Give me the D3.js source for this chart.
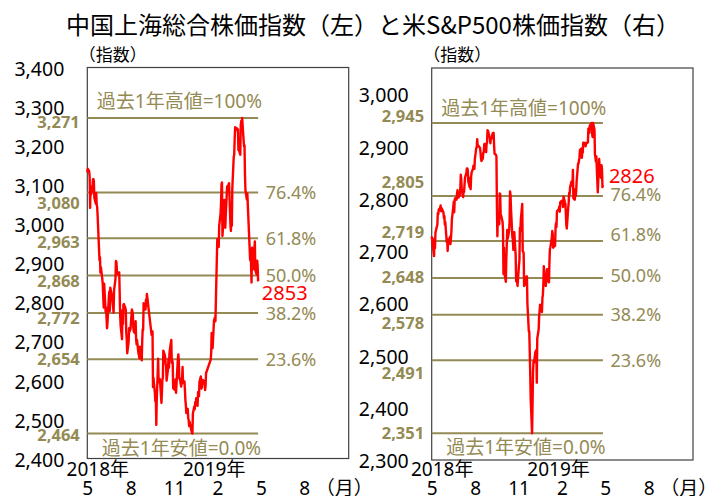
<!DOCTYPE html>
<html><head><meta charset="utf-8">
<script src="https://cdn.jsdelivr.net/npm/d3@7"></script>
<style>
body{margin:0;background:#fff}
svg{display:block}
text{font-family:"Noto Sans","Noto Sans CJK JP",sans-serif}
</style>
</head><body>
<svg id="c" width="708" height="496"></svg>
<script>
// ---------------- DATA ----------------
const titleText = "中国上海総合株価指数（左）と米S&P500株価指数（右）";
const unitLabel = "（指数）";
const monthLabels = ["5","8","11","2","5","8"];
const yearLabels = ["2018年","2019年"];
const monthUnit = "（月）";
const highLabel = "過去1年高値=100%";
const lowLabel = "過去1年安値=0.0%";
const fibRatios = [0.236, 0.382, 0.5, 0.618, 0.764];

// Shanghai Composite (left)
const shTicks = [2400,2500,2600,2700,2800,2900,3000,3100,3200,3300,3400];
const shLevels = [2464, 2654, 2772, 2868, 2963, 3080, 3271];
const shLast = 2853;
const shDates = [
"180524","180525","180528","180529","180530","180531",
"180601","180604","180605","180606","180607","180608","180611","180612","180613","180614","180615","180619","180620","180621","180622","180625","180626","180627","180628","180629",
"180702","180703","180704","180705","180706","180709","180710","180711","180712","180713","180716","180717","180718","180719","180720","180723","180724","180725","180726","180727","180730","180731",
"180801","180802","180803","180806","180807","180808","180809","180810","180813","180814","180815","180816","180817","180820","180821","180822","180823","180824","180827","180828","180829","180830","180831",
"180903","180904","180905","180906","180907","180910","180911","180912","180913","180914","180917","180918","180919","180920","180921","180925","180926","180927","180928",
"181008","181009","181010","181011","181012","181015","181016","181017","181018","181019","181022","181023","181024","181025","181026","181029","181030","181031",
"181101","181102","181105","181106","181107","181108","181109","181112","181113","181114","181115","181116","181119","181120","181121","181122","181123","181126","181127","181128","181129","181130",
"181203","181204","181205","181206","181207","181210","181211","181212","181213","181214","181217","181218","181219","181220","181221","181224","181225","181226","181227","181228",
"190102","190103","190104","190107","190108","190109","190110","190111","190114","190115","190116","190117","190118","190121","190122","190123","190124","190125","190128","190129","190130","190131",
"190201","190211","190212","190213","190214","190215","190218","190219","190220","190221","190222","190225","190226","190227","190228",
"190301","190304","190305","190306","190307","190308","190311","190312","190313","190314","190315","190318","190319","190320","190321","190322","190325","190326","190327","190328","190329",
"190401","190402","190403","190404","190408","190409","190410","190411","190412","190415","190416","190417","190418","190419","190422","190423","190424","190425","190426","190429","190430",
"190506","190507","190508","190509","190510","190513","190514","190515","190516","190517","190520","190521","190522","190523"
];
const shValues = [
3132,3141,3135,3120,3041,3095,
3075,3091,3114,3115,3109,3067,3052,3079,3049,3044,3021,2907,2915,2875,2889,2859,2844,2813,2786,2847,
2775,2786,2759,2733,2747,2815,2827,2777,2837,2831,2814,2798,2787,2773,2829,2859,2905,2903,2882,2873,2869,2876,
2824,2768,2740,2705,2779,2744,2794,2795,2785,2780,2723,2705,2669,2698,2733,2724,2729,2730,2781,2777,2769,2737,2725,
2720,2751,2705,2692,2703,2669,2664,2656,2686,2682,2651,2700,2730,2729,2797,2781,2806,2791,2821,
2716,2721,2725,2583,2606,2568,2546,2561,2486,2550,2655,2595,2603,2604,2598,2542,2568,2603,
2606,2676,2665,2659,2641,2635,2599,2630,2655,2632,2668,2679,2703,2645,2651,2645,2580,2576,2575,2602,2568,2588,
2655,2666,2649,2605,2606,2584,2594,2602,2634,2593,2597,2576,2550,2536,2516,2527,2504,2498,2483,2494,
2465,2464,2515,2533,2526,2544,2536,2554,2535,2570,2570,2559,2596,2610,2579,2581,2591,2601,2597,2594,2575,2585,
2618,2653,2671,2721,2719,2682,2754,2756,2761,2751,2804,2961,2942,2953,2941,
2994,3027,3054,3102,3106,2969,3026,3061,3026,2990,3022,3096,3091,3090,3101,3104,2997,2982,3022,2995,3091,
3171,3176,3216,3247,3244,3239,3242,3189,3189,3177,3253,3263,3251,3271,3215,3198,3201,3124,3086,3062,3078,
2907,2926,2894,2850,2939,2903,2884,2939,2955,2882,2870,2906,2892,2853
];

// S&P 500 (right)
const spTicks = [2300,2400,2500,2600,2700,2800,2900,3000];
const spLevels = [2351, 2491, 2578, 2648, 2719, 2805, 2945];
const spLast = 2826;
const spDates = [
"180524","180525","180529","180530","180531",
"180601","180604","180605","180606","180607","180608","180611","180612","180613","180614","180615","180618","180619","180620","180621","180622","180625","180626","180627","180628","180629",
"180702","180703","180705","180706","180709","180710","180711","180712","180713","180716","180717","180718","180719","180720","180723","180724","180725","180726","180727","180730","180731",
"180801","180802","180803","180806","180807","180808","180809","180810","180813","180814","180815","180816","180817","180820","180821","180822","180823","180824","180827","180828","180829","180830","180831",
"180904","180905","180906","180907","180910","180911","180912","180913","180914","180917","180918","180919","180920","180921","180924","180925","180926","180927","180928",
"181001","181002","181003","181004","181005","181008","181009","181010","181011","181012","181015","181016","181017","181018","181019","181022","181023","181024","181025","181026","181029","181030","181031",
"181101","181102","181105","181106","181107","181108","181109","181112","181113","181114","181115","181116","181119","181120","181121","181123","181126","181127","181128","181129","181130",
"181203","181204","181206","181207","181210","181211","181212","181213","181214","181217","181218","181219","181220","181221","181224","181226","181227","181228","181231",
"190102","190103","190104","190107","190108","190109","190110","190111","190114","190115","190116","190117","190118","190122","190123","190124","190125","190128","190129","190130","190131",
"190201","190204","190205","190206","190207","190208","190211","190212","190213","190214","190215","190219","190220","190221","190222","190225","190226","190227","190228",
"190301","190304","190305","190306","190307","190308","190311","190312","190313","190314","190315","190318","190319","190320","190321","190322","190325","190326","190327","190328","190329",
"190401","190402","190403","190404","190405","190408","190409","190410","190411","190412","190415","190416","190417","190418","190422","190423","190424","190425","190426","190429","190430",
"190501","190502","190503","190506","190507","190508","190509","190510","190513","190514","190515","190516","190517","190520","190521","190522","190523","190524"
];
const spValues = [
2728,2721,2690,2724,2705,
2735,2747,2749,2772,2770,2779,2782,2787,2776,2782,2780,2774,2763,2767,2750,2755,2717,2723,2700,2716,2718,
2727,2713,2737,2760,2784,2794,2774,2798,2801,2798,2810,2816,2804,2802,2807,2820,2846,2837,2819,2803,2816,
2813,2827,2840,2850,2858,2858,2854,2833,2822,2840,2818,2841,2850,2857,2863,2862,2857,2875,2897,2898,2914,2901,2902,
2897,2889,2878,2872,2877,2888,2889,2904,2905,2889,2904,2908,2931,2930,2919,2916,2906,2914,2914,
2925,2923,2926,2902,2886,2884,2880,2786,2728,2767,2751,2810,2809,2769,2768,2756,2741,2656,2706,2659,2641,2683,2712,
2740,2723,2738,2755,2814,2807,2781,2726,2722,2702,2730,2736,2691,2642,2650,2633,2673,2682,2744,2738,2760,
2790,2700,2696,2633,2638,2637,2651,2651,2600,2546,2546,2507,2467,2417,2351,2468,2489,2486,2507,
2510,2448,2532,2550,2574,2585,2597,2596,2583,2610,2616,2636,2671,2633,2639,2642,2665,2644,2640,2681,2704,
2707,2725,2738,2732,2706,2708,2710,2745,2753,2746,2776,2780,2785,2775,2793,2796,2794,2792,2784,
2804,2793,2790,2771,2749,2743,2783,2792,2811,2808,2822,2833,2833,2824,2855,2801,2798,2818,2805,2815,2834,
2867,2867,2873,2879,2893,2896,2878,2888,2888,2907,2906,2907,2900,2905,2908,2934,2927,2926,2940,2943,2945,
2924,2918,2945,2932,2884,2879,2871,2881,2812,2834,2851,2876,2860,2840,2864,2856,2822,2826
];

// ---------------- LAYOUT / STYLE ----------------
const GOLD = "#948A54", RED = "#FF0000";
const parse = d3.timeParse("%y%m%d");
const xDomain = [parse("180524"), parse("191202")];

const panels = [
  {dates: shDates, values: shValues, ticks: shTicks, levels: shLevels, last: shLast,
   box: {x0: 87.3, x1: 348.7, y0: 67.5, y1: 458.5}, yDomain: [2400, 3400],
   levelDy: [1.3, 0, 5.3, 5.7, 4, 10, 3.7], pctDy: [0, 0, 0, 0, 0],
   highDy: -16.6, lowDy: 14.6, lastDx: 3.7, lastDy: 11.6},
  {dates: spDates, values: spValues, ticks: spTicks, levels: spLevels, last: spLast,
   box: {x0: 431.7, x1: 693, y0: 68, y1: 460}, yDomain: [2300, 3050],
   levelDy: [0, 12.6, 8.1, -1.3, -9.2, -14.2, -6.7], pctDy: [0, 0, -3, -6, -2],
   highDy: -14.4, lowDy: 13.4, lastDx: 6, lastDy: -9}
];

const svg = d3.select("#c");

svg.append("text").attr("x", 373).attr("y", 34).attr("text-anchor", "middle")
  .attr("font-size", 24).attr("fill", "#000")
  .style("font-family", '"Noto Sans CJK JP","Noto Sans",sans-serif')
  .text(titleText);

panels.forEach(p => {
  const b = p.box;
  const x = d3.scaleTime().domain(xDomain).range([b.x0, b.x1]);
  const y = d3.scaleLinear().domain(p.yDomain).range([b.y1, b.y0]);
  const data = p.dates.map((d, i) => ({d: parse(d), v: p.values[i]}));
  const g = svg.append("g");

  // box
  g.append("rect").attr("x", b.x0).attr("y", b.y0)
    .attr("width", b.x1 - b.x0).attr("height", b.y1 - b.y0)
    .attr("fill", "none").attr("stroke", "#404040").attr("stroke-width", 1.2);

  // y tick labels via axis
  const yAxis = d3.axisLeft(y).tickValues(p.ticks).tickFormat(d3.format(",")).tickSize(0).tickPadding(0);
  const ya = g.append("g").attr("transform", `translate(${b.x0 - 23},1.5)`).call(yAxis);
  ya.select(".domain").remove();
  ya.selectAll("text").attr("font-size", 19.5).attr("fill", "#000")
    .style("font-family", '"Noto Sans",sans-serif');

  // unit label
  g.append("text").attr("x", b.x0 - 8.5).attr("y", 55).attr("dy", "0.36em")
    .attr("font-size", 17).attr("fill", "#000")
    .style("font-family", '"Noto Sans CJK JP",sans-serif').text(unitLabel);

  const xEnd = x(data[data.length - 1].d);

  // level lines
  g.selectAll("line.lvl").data(p.levels).enter().append("line")
    .attr("x1", b.x0).attr("x2", xEnd)
    .attr("y1", d => y(d)).attr("y2", d => y(d))
    .attr("stroke", GOLD).attr("stroke-width", 2);

  // level value labels
  g.selectAll("text.lv").data(p.levels).enter().append("text")
    .attr("x", b.x0 - 7.5).attr("y", (d, i) => y(d) + p.levelDy[i]).attr("dy", "0.36em")
    .attr("text-anchor", "end").attr("font-size", 16.5).attr("font-weight", "bold")
    .attr("fill", GOLD).text(d => d3.format(",")(d));

  // percent labels
  g.selectAll("text.pct").data(fibRatios).enter().append("text")
    .attr("x", xEnd + 7.5).attr("y", (d, i) => y(p.levels[i + 1]) + p.pctDy[i]).attr("dy", "0.36em")
    .attr("font-size", 18).attr("fill", GOLD).text(d => d3.format(".1%")(d));

  g.append("text").attr("x", b.x0 + 9.5).attr("y", y(p.levels[6]) + p.highDy).attr("dy", "0.36em")
    .attr("font-size", 19).attr("fill", GOLD).text(highLabel);
  g.append("text").attr("x", b.x0 + 14.5).attr("y", y(p.levels[0]) + p.lowDy).attr("dy", "0.36em")
    .attr("font-size", 19).attr("fill", GOLD).text(lowLabel);

  // series line
  g.append("path").datum(data)
    .attr("d", d3.line().x(d => x(d.d)).y(d => y(d.v)))
    .attr("fill", "none").attr("stroke", RED).attr("stroke-width", 2.4)
    .attr("stroke-linejoin", "round");

  // last value label
  g.append("text").attr("x", xEnd + p.lastDx).attr("y", y(p.last) + p.lastDy).attr("dy", "0.36em")
    .attr("font-size", 20).attr("fill", RED).text(p.last);

  // x labels
  const mx = d3.scalePoint().domain(d3.range(monthLabels.length)).range([b.x0, b.x0 + 217]);
  const xAxis = d3.axisBottom(mx).tickFormat(i => monthLabels[i]).tickSize(0).tickPadding(0);
  const xa = g.append("g").attr("transform", `translate(0,${495 - 14})`).call(xAxis);
  xa.select(".domain").remove();
  xa.selectAll("text").attr("font-size", 19).attr("fill", "#000").attr("dy", "0.71em")
    .style("font-family", '"Noto Sans",sans-serif');
  g.append("text").attr("x", mx(5) + 11.5).attr("y", 495)
    .attr("font-size", 19).attr("fill", "#000")
    .style("font-family", '"Noto Sans CJK JP",sans-serif').text(monthUnit);
  g.append("text").attr("x", mx(0) + 10.5).attr("y", 476).attr("text-anchor", "middle")
    .attr("font-size", 19).attr("fill", "#000").text(yearLabels[0]);
  g.append("text").attr("x", mx(3) - 3.3).attr("y", 476).attr("text-anchor", "middle")
    .attr("font-size", 19).attr("fill", "#000").text(yearLabels[1]);
});
</script>
</body></html>
